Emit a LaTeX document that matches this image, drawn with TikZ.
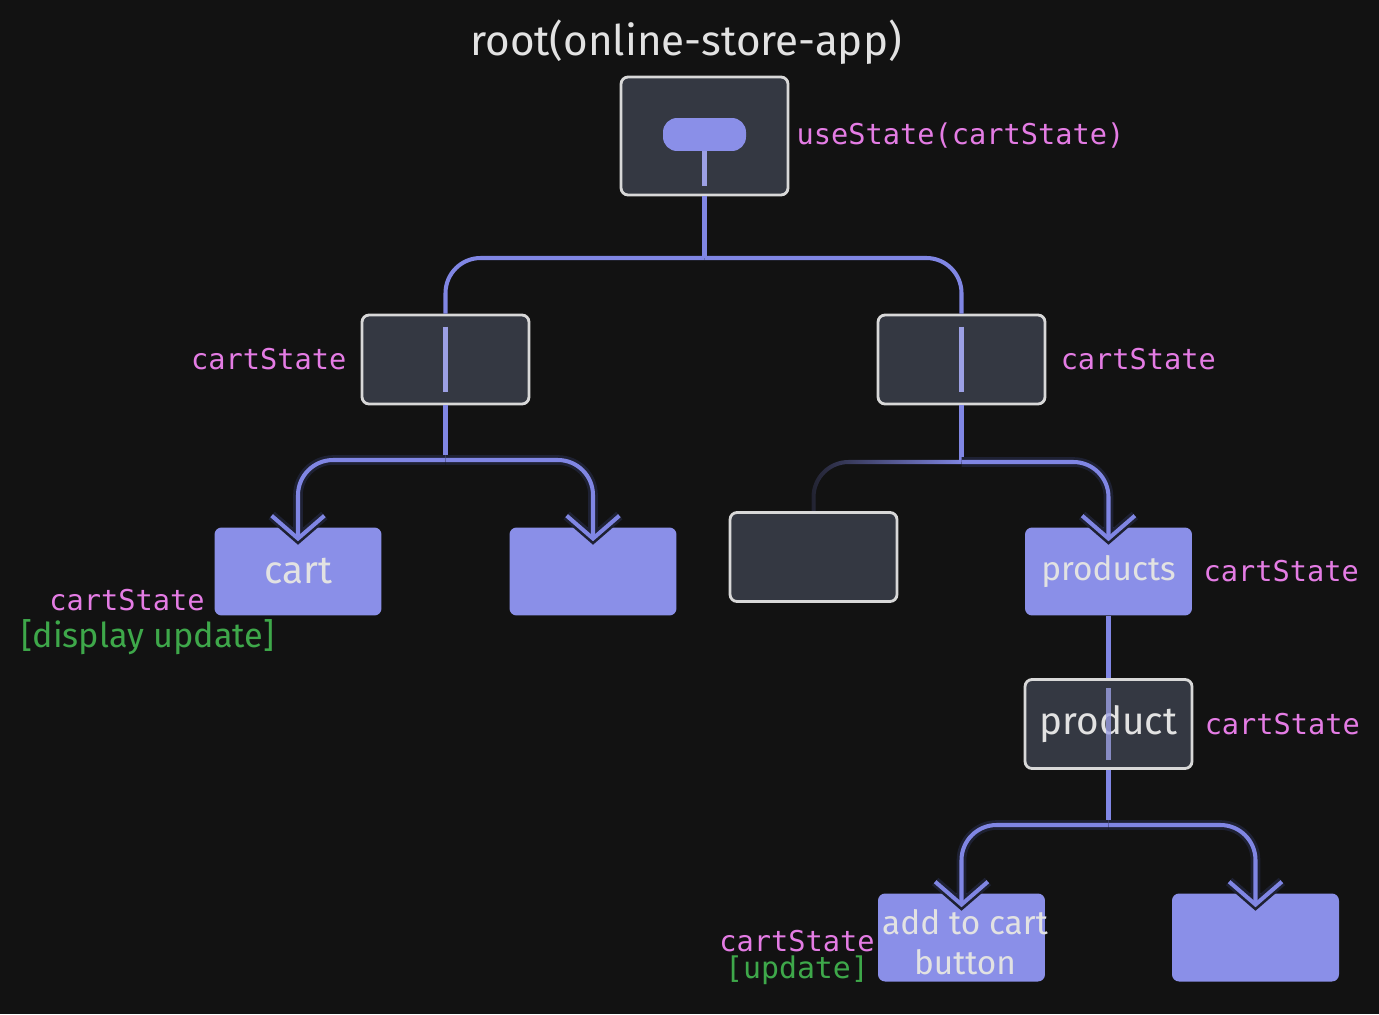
\documentclass[tikz,border=0pt]{standalone}
\usepackage{fontspec}
\setmainfont{Fira Sans}
\newfontfamily\codefont{DejaVu Sans Mono}
\usepackage{tikz}
\usetikzlibrary{arrows.meta,positioning,fadings}
\usepackage{xcolor}
\definecolor{bgcol}{HTML}{121212}
\definecolor{boxgray}{HTML}{343842}
\definecolor{edgegray}{HTML}{D8D8D8}
\definecolor{leafpurple}{HTML}{8A8FE8}
\definecolor{linepurple}{HTML}{8086E4}
\definecolor{barpurple}{HTML}{9CA0E4}
\definecolor{shadowcol}{HTML}{1E2133}
\definecolor{pinklabel}{HTML}{E47CE4}
\definecolor{greenlabel}{HTML}{3EA84A}
\definecolor{textgray}{HTML}{E2E2E2}
\tikzfading[name=fadeleft, left color=transparent!85, right color=transparent!0]

\begin{document}
\begin{tikzpicture}[x=0.02cm,y=-0.02cm,
	conn/.style={draw=linepurple,line width=2.3pt,rounded corners=20pt},
	bar/.style={draw=barpurple,line width=2.3pt},
	arr/.style={conn,-{Straight Barb[length=13pt,width=30pt]},shorten >=-8pt,
		preaction={draw=shadowcol,line width=5.5pt,-{Straight Barb[length=13pt,width=30pt]},shorten >=-10pt}},
	code/.style={text=pinklabel,font=\codefont\fontsize{16.3}{19}\selectfont,inner sep=0pt}]
	\fill[bgcol] (0,0) rectangle (1379,1014);
	\node[text=textgray,font=\fontsize{24}{28}\selectfont] (title) at (686,42) {root(online-store-app)};
	\begin{scope}[every node/.style={draw=edgegray,fill=boxgray,line width=1.6pt,rounded corners=4pt,
		minimum width=3.34cm,minimum height=1.78cm,inner sep=0pt,text=textgray,font=\fontsize{22}{26}\selectfont}]
		\node[minimum height=2.36cm] (root) at (704.5,136) {};
		\node (lmid) at (445.5,359.5) {};
		\node (rmid) at (961.5,359.5) {};
		\node (dleaf) at (813.5,557) {};
		\node (product) at (1108.5,724) {product};
	\end{scope}
	\begin{scope}[every node/.style={fill=leafpurple,rounded corners=4pt,minimum width=3.34cm,
		minimum height=1.76cm,inner sep=0pt,text=textgray,font=\fontsize{22}{26}\selectfont}]
		\node (cart) at (298,571.5) {cart};
		\node (cart2) at (593,571.5) {};
		\node[font=\fontsize{19}{23}\selectfont] (products) at (1108.5,571.5) {products};
		\node (addbtn) at (961.5,937.5) {};
		\node (rleaf) at (1255.5,937.5) {};
	\end{scope}
	\node[fill=leafpurple,rounded corners=8pt,minimum width=1.66cm,minimum height=0.66cm,inner sep=0pt] (pill) at (704.5,134.5) {};

	\coordinate (s1) at (704.5,258);
	\coordinate (s2) at (445.5,460);
	\coordinate (s3) at (961.5,462);
	\coordinate (s4) at (1108.5,825);

	% stems inside boxes
	\draw[bar] (pill.south) -- ([yshift=0.2cm]root.south);
	\draw[bar] ([yshift=-0.26cm]lmid.north) -- ([yshift=0.26cm]lmid.south);
	\draw[bar] ([yshift=-0.26cm]rmid.north) -- ([yshift=0.26cm]rmid.south);
	\draw[bar,opacity=0.8] ([yshift=-0.2cm]product.north) -- ([yshift=0.2cm]product.south);

	\draw[conn] (root.south) -- (s1);
	\draw[conn] (s1) -| (lmid.north);
	\draw[conn] (s1) -| (rmid.north);
	\draw[conn] (lmid.south) -- (s2);
	\draw[arr] (s2) -| (cart.north);
	\draw[arr] (s2) -| (cart2.north);
	\draw[conn] (rmid.south) -- (s3);
	\draw[conn,path fading=fadeleft] (s3) -| (dleaf.north);
	\draw[arr] (s3) -| (products.north);
	\draw[conn] (products.south) -- (product.north);
	\draw[conn] (product.south) -- (s4);
	\draw[arr] (s4) -| (addbtn.north);
	\draw[arr] (s4) -| (rleaf.north);

	\node[text=textgray,font=\fontsize{19}{23}\selectfont,align=center,inner sep=0pt] (addtxt) at (965,942) {add to cart\\button};

	% labels
	\node[code,right=0.14cm of root] (rootlbl) {useState(cartState)};
	\node[code,left=0.28cm of lmid] (lmidlbl) {cartState};
	\node[code,right=0.28cm of rmid] (rmidlbl) {cartState};
	\node[code,right=0.22cm of products] (productslbl) {cartState};
	\node[code,right=0.22cm of product] (productlbl) {cartState};
	\node[code,anchor=east] (cartlbl) at (205,600) {cartState};
	\node[text=greenlabel,font=\fontsize{19.5}{22}\selectfont,inner sep=0pt] (cartupd) at (148,637) {[display update]};
	\node[code,anchor=east] (addlbl) at (875,941) {cartState};
	\node[code,text=greenlabel,font=\codefont\fontsize{17}{20}\selectfont] (addupd) at (797,970) {[update]};
\end{tikzpicture}
\end{document}
